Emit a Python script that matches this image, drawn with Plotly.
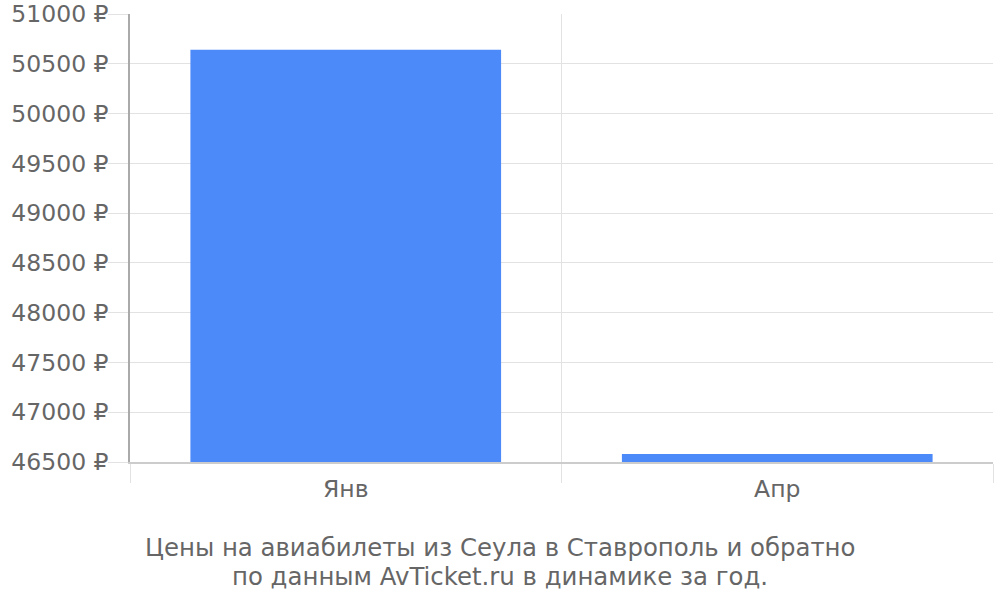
import plotly.graph_objects as go

# данные с картинки
months = ["Янв", "Апр"]
prices = [50640, 46580]
y_ticks = [46500, 47000, 47500, 48000, 48500, 49000, 49500, 50000, 50500, 51000]
caption_lines = [
    "Цены на авиабилеты из Сеула в Ставрополь и обратно",
    "по данным AvTicket.ru в динамике за год.",
]

GRID = "#e2e2e2"
TEXT = "#666666"
FONT = "DejaVu Sans"
FSIZE = 23.5

W, H = 1000, 600
M_L, M_R, M_T, M_B = 130, 7, 14, 138
plot_w = W - M_L - M_R
plot_h = H - M_T - M_B

x_pos = list(range(len(months)))

fig = go.Figure()
fig.add_trace(go.Bar(
    x=x_pos,
    y=prices,
    width=0.72,
    marker=dict(color="#4c89f9", line=dict(width=0)),
))

fig.update_layout(
    width=W,
    height=H,
    margin=dict(l=M_L, r=M_R, t=M_T, b=M_B),
    paper_bgcolor="white",
    plot_bgcolor="white",
    showlegend=False,
    font=dict(family=FONT, size=FSIZE, color=TEXT),
)

# подпись снизу, по центру всей картинки, две строки
for i, line in enumerate(caption_lines):
    fig.add_annotation(
        text=line,
        xref="paper", yref="paper",
        x=(500 - M_L) / plot_w,
        y=-(85 + 29 * i) / plot_h,
        xanchor="center", yanchor="middle",
        showarrow=False,
        font=dict(family=FONT, size=24.4, color=TEXT),
    )

fig.update_xaxes(
    range=[-0.5, len(months) - 0.5],
    tickvals=x_pos,
    ticktext=months,
    ticks="outside",
    ticklen=5,
    tickcolor="rgba(0,0,0,0)",
    showgrid=False,
    showline=True,
    linecolor="#cccccc",
    linewidth=1.5,
    zeroline=False,
    automargin=False,
    minor=dict(
        tickvals=[i + 0.5 for i in range(-1, len(months))],
        ticks="outside",
        ticklen=19,
        tickcolor=GRID,
        showgrid=True,
        gridcolor=GRID,
        gridwidth=1,
    ),
)

fig.update_yaxes(
    range=[y_ticks[0], y_ticks[-1]],
    tickvals=y_ticks,
    ticktext=[f"{v} ₽" for v in y_ticks],
    ticks="outside",
    ticklen=20,
    ticklabelstandoff=-5,
    tickcolor=GRID,
    gridcolor=GRID,
    gridwidth=1,
    showline=True,
    linecolor="#aaaaaa",
    linewidth=1.5,
    zeroline=False,
    automargin=False,
)

# убираем стандартный отступ страницы, чтобы график занимал всё окно
fig.write_html(
    "out.html",
    config={"displayModeBar": False},
    post_script="document.body.style.margin='0';",
)
